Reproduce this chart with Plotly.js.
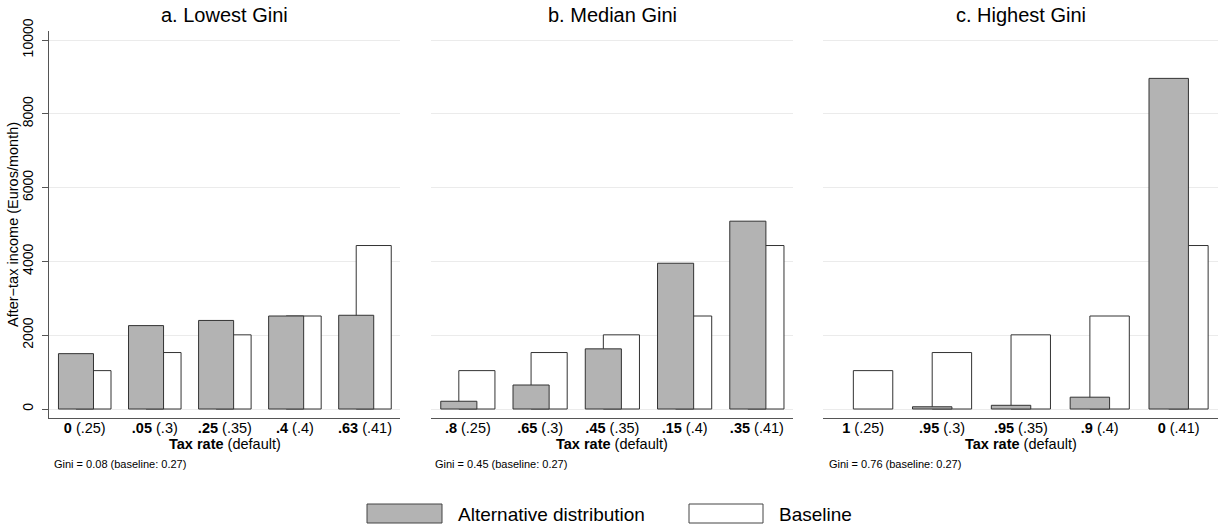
<!DOCTYPE html>
<html>
<head>
<meta charset="utf-8">
<script src="https://cdn.plot.ly/plotly-3.0.1.min.js"></script>
<style>
  html, body { margin: 0; padding: 0; background: #ffffff; }
  #chart { width: 1225px; height: 529px; }
</style>
</head>
<body>
<div id="chart"></div>
<script>
// After-tax income (Euros/month) by tax-rate group, three Gini scenarios
const groups = [0, 1, 2, 3, 4];
const defaultRates = ['.25', '.3', '.35', '.4', '.41'];

const panelTitles = ['a. Lowest Gini', 'b. Median Gini', 'c. Highest Gini'];
const panelNotes = [
  'Gini = 0.08 (baseline: 0.27)',
  'Gini = 0.45 (baseline: 0.27)',
  'Gini = 0.76 (baseline: 0.27)'
];

// Chosen tax rates under each alternative distribution
const altRatesLow = ['0', '.05', '.25', '.4', '.63'];
const altRatesMed = ['.8', '.65', '.45', '.15', '.35'];
const altRatesHigh = ['1', '.95', '.95', '.9', '0'];

// Income values
const baselineIncome = [1040, 1530, 2010, 2520, 4430];
const altIncomeLow = [1500, 2260, 2400, 2520, 2540];
const altIncomeMed = [210, 650, 1630, 3950, 5090];
const altIncomeHigh = [0, 60, 100, 320, 8960];

const yTicks = [0, 2000, 4000, 6000, 8000, 10000];

const altRates = [altRatesLow, altRatesMed, altRatesHigh];
const altIncome = [altIncomeLow, altIncomeMed, altIncomeHigh];

const W = 1225, H = 529;
const px = v => v / W;
const py = v => 1 - v / H;

const FONT = 'Liberation Sans, Arial, Helvetica, sans-serif';
const ALT_FILL = '#b3b3b3';
const EDGE = '#333333';
const AXIS = '#555555';
const GRID = '#ebebeb';

// horizontal extents of each panel's plotting area (pixels)
const panelX = [[49, 400], [431, 793], [823, 1218]];
const plotTop = 31, plotBottom = 418;

const traces = [];
const layout = {
  width: W, height: H,
  margin: {l: 0, r: 0, t: 0, b: 0},
  paper_bgcolor: '#ffffff',
  plot_bgcolor: '#ffffff',
  barmode: 'overlay',
  showlegend: false,
  font: {family: FONT, color: '#000000'},
  annotations: [],
  shapes: []
};

for (let i = 0; i < 3; i++) {
  const sfx = i === 0 ? '' : String(i + 1);
  const xa = 'x' + sfx, ya = 'y' + sfx;

  traces.push({
    type: 'bar', x: groups, y: baselineIncome, xaxis: xa, yaxis: ya,
    width: 0.5, offset: -0.125,
    marker: {color: '#ffffff', line: {color: EDGE, width: 1}},
    name: 'Baseline', hoverinfo: 'y'
  });
  // a zero-height bar leaves no outline behind
  traces.push({
    type: 'bar', x: groups, y: altIncome[i], xaxis: xa, yaxis: ya,
    width: 0.5, offset: -0.375,
    marker: {color: ALT_FILL, line: {color: EDGE, width: altIncome[i].map(v => v === 0 ? 0 : 1)}},
    name: 'Alternative distribution', hoverinfo: 'y'
  });

  const ticktext = groups.map(g => '<b>' + altRates[i][g] + '</b> (' + defaultRates[g] + ')');

  layout['xaxis' + sfx] = {
    domain: [px(panelX[i][0]), px(panelX[i][1])],
    anchor: ya,
    range: [-0.51, 4.5],
    tickvals: groups, ticktext: ticktext,
    tickfont: {size: 14.5, family: FONT, color: '#000000'},
    ticklabelstandoff: -4,
    ticks: '', showgrid: false, zeroline: false,
    showline: true, linecolor: AXIS, linewidth: 1.2,
    fixedrange: true
  };
  layout['yaxis' + sfx] = {
    domain: [py(plotBottom), py(plotTop)],
    anchor: xa,
    range: [-244, 10244],
    tickvals: yTicks, ticktext: yTicks.map(String),
    showgrid: true, gridcolor: GRID, gridwidth: 1,
    zeroline: false,
    showline: i === 0, linecolor: AXIS, linewidth: 1.2,
    ticks: i === 0 ? 'outside' : '', ticklen: 6, tickcolor: AXIS,
    showticklabels: i === 0,
    tickangle: -90,
    ticklabelstandoff: 3,
    tickfont: {size: 14, family: FONT, color: '#000000'},
    fixedrange: true
  };

  const cx = (panelX[i][0] + panelX[i][1]) / 2;
  layout.annotations.push({
    text: panelTitles[i], xref: 'paper', yref: 'paper',
    x: px(cx), y: py(15), xanchor: 'center', yanchor: 'middle',
    showarrow: false, font: {size: 20, family: FONT, color: '#000000'}
  });
  layout.annotations.push({
    text: '<b>Tax rate</b> (default)', xref: 'paper', yref: 'paper',
    x: px(cx), y: py(444), xanchor: 'center', yanchor: 'middle',
    showarrow: false, font: {size: 14.5, family: FONT, color: '#000000'}
  });
  const noteX = [52, 433, 827][i];
  layout.annotations.push({
    text: panelNotes[i], xref: 'paper', yref: 'paper',
    x: px(noteX), y: py(464), xanchor: 'left', yanchor: 'middle',
    showarrow: false, font: {size: 11, family: FONT, color: '#000000'}
  });
}

// y-axis title
layout.annotations.push({
  text: 'After\u2212tax income (Euros/month)', xref: 'paper', yref: 'paper',
  x: px(13), y: py(225), xanchor: 'center', yanchor: 'middle', textangle: -90,
  showarrow: false, font: {size: 14.5, family: FONT, color: '#000000'}
});

// legend keys
const legendItems = [
  {label: 'Alternative distribution', fill: ALT_FILL, box: [367, 442], textX: 456},
  {label: 'Baseline', fill: '#ffffff', box: [689, 763], textX: 777}
];
legendItems.forEach(it => {
  layout.shapes.push({
    type: 'rect', xref: 'paper', yref: 'paper',
    x0: px(it.box[0]), x1: px(it.box[1]), y0: py(523), y1: py(504),
    fillcolor: it.fill, line: {color: '#444444', width: 1}
  });
  layout.annotations.push({
    text: it.label, xref: 'paper', yref: 'paper',
    x: px(it.textX), y: py(514), xanchor: 'left', yanchor: 'middle',
    showarrow: false, font: {size: 19, family: FONT, color: '#000000'}
  });
});

Plotly.newPlot('chart', traces, layout, {displayModeBar: false, staticPlot: true});
</script>
</body>
</html>
